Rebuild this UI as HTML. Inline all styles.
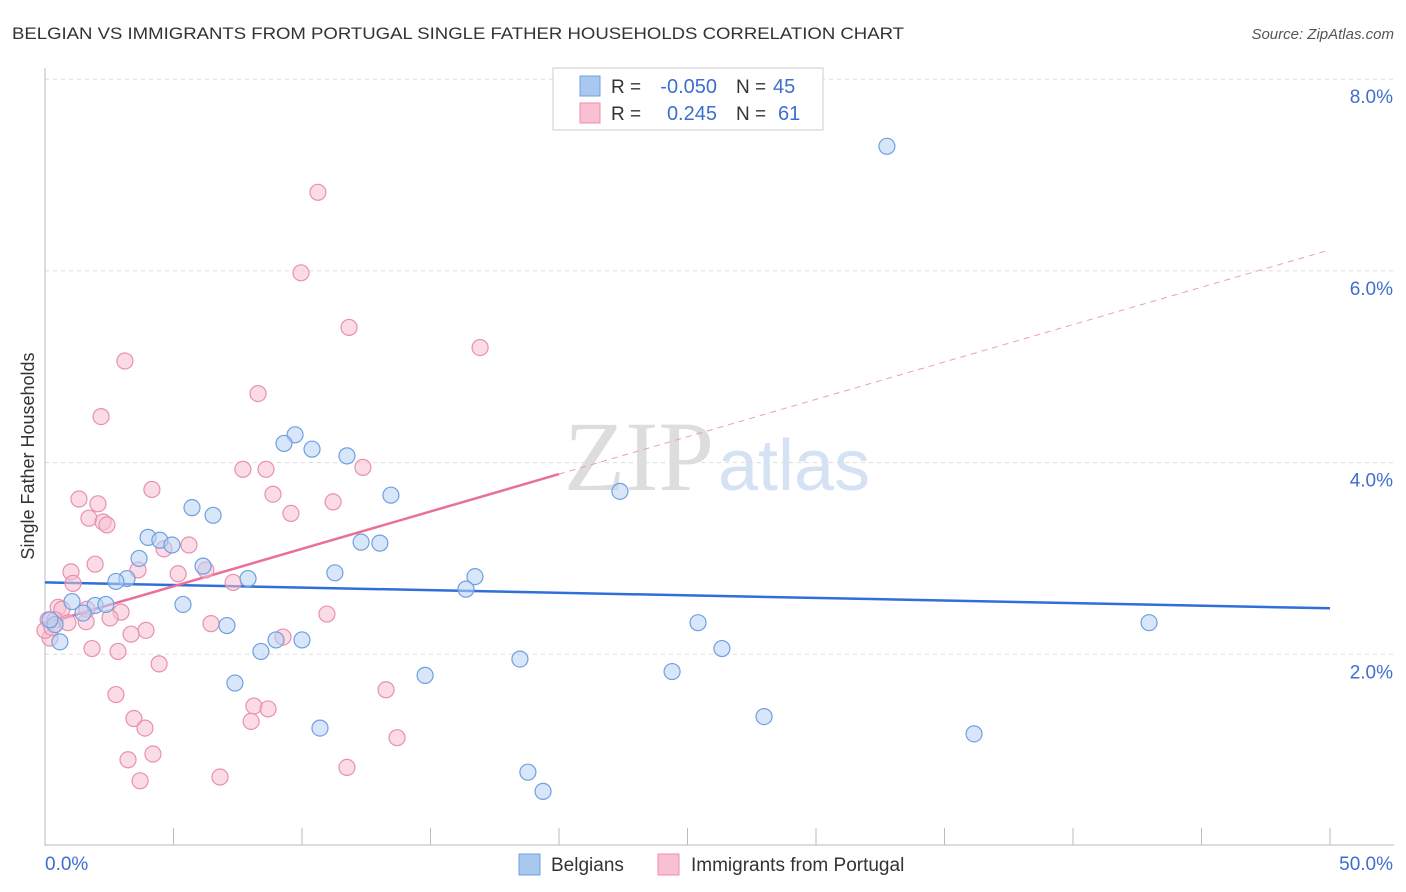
<!DOCTYPE html>
<html><head><meta charset="utf-8"><style>
body{margin:0;background:#fff;font-family:"Liberation Sans",sans-serif;}
svg{display:block}
</style></head><body>
<svg width="1406" height="892" id="chart">
<text x="12" y="39" font-size="17" fill="#333" textLength="892" lengthAdjust="spacingAndGlyphs">BELGIAN VS IMMIGRANTS FROM PORTUGAL SINGLE FATHER HOUSEHOLDS CORRELATION CHART</text>
<text x="1394" y="39" font-size="15" fill="#555" text-anchor="end" font-style="italic">Source: ZipAtlas.com</text>
<text x="34" y="456" font-size="18" fill="#333" text-anchor="middle" transform="rotate(-90 34 456)">Single Father Households</text>
<text x="714" y="490" font-size="100" fill="#ddd" text-anchor="end" font-family="Liberation Serif">ZIP</text>
<text x="718" y="490" font-size="72" fill="#d4e2f4">atlas</text>
<g id="grid"></g><g id="axes"></g><g id="lines"></g><g id="pts"></g>
<g>
<rect x="553" y="68" width="270" height="62" fill="#fff" stroke="#ccc"/>
<rect x="580" y="76" width="20" height="20" fill="#a8c8f0" stroke="#6fa0e0"/>
<rect x="580" y="103" width="20" height="20" fill="#f8c0d2" stroke="#e890b0"/>
<text x="611" y="93" font-size="19" fill="#333">R =</text>
<text x="717" y="93" font-size="20" fill="#3d6fd0" text-anchor="end">-0.050</text>
<text x="736" y="93" font-size="19" fill="#333">N =</text>
<text x="773" y="93" font-size="20" fill="#3d6fd0">45</text>
<text x="611" y="120" font-size="19" fill="#333">R =</text>
<text x="717" y="120" font-size="20" fill="#3d6fd0" text-anchor="end">0.245</text>
<text x="736" y="120" font-size="19" fill="#333">N =</text>
<text x="778" y="120" font-size="20" fill="#3d6fd0">61</text>
</g>
<g>
<rect x="519" y="854" width="21" height="21" fill="#a8c8f0" stroke="#6fa0e0"/>
<text x="551" y="871" font-size="19" fill="#333">Belgians</text>
<rect x="658" y="854" width="21" height="21" fill="#f8c0d2" stroke="#e890b0"/>
<text x="691" y="871" font-size="19" fill="#333">Immigrants from Portugal</text>
</g>
</svg>
<script>
const blueX=[32.76,9.73,9.30,10.39,11.75,13.46,22.37,5.72,6.54,4.01,4.47,4.94,12.30,13.03,3.66,6.15,3.19,2.76,11.28,7.90,16.73,16.38,1.05,1.95,2.37,5.37,1.48,0.39,0.19,0.58,7.08,25.41,42.96,8.99,10.00,8.40,26.34,18.48,14.79,24.40,7.39,27.98,10.70,36.15,18.79,19.38];
const blueY=[7.30,4.29,4.20,4.14,4.07,3.66,3.70,3.53,3.45,3.22,3.19,3.14,3.17,3.16,3.00,2.92,2.79,2.76,2.85,2.79,2.81,2.68,2.55,2.51,2.52,2.52,2.43,2.31,2.36,2.13,2.30,2.33,2.33,2.15,2.15,2.03,2.06,1.95,1.78,1.82,1.70,1.35,1.23,1.17,0.77,0.57];
const pinkX=[10.62,9.96,11.83,16.93,3.11,8.29,2.18,4.16,7.70,8.60,12.37,1.32,2.06,8.87,11.21,9.57,1.71,2.26,2.41,5.60,4.63,1.95,3.62,5.18,6.26,1.01,7.32,1.09,0.51,0.66,1.63,2.96,2.53,10.97,0.12,0.39,0.89,1.60,6.46,3.93,3.35,9.26,0.19,1.83,2.84,4.44,13.27,2.76,8.13,8.68,3.46,8.02,3.89,13.70,4.20,3.23,11.75,6.81,3.70,0.00,0.27];
const pinkY=[6.82,5.98,5.41,5.20,5.06,4.72,4.48,3.72,3.93,3.93,3.95,3.62,3.57,3.67,3.59,3.47,3.42,3.38,3.35,3.14,3.10,2.94,2.88,2.84,2.88,2.86,2.75,2.74,2.49,2.47,2.47,2.44,2.38,2.42,2.36,2.36,2.33,2.34,2.32,2.25,2.21,2.18,2.17,2.06,2.03,1.90,1.63,1.58,1.46,1.43,1.33,1.30,1.23,1.13,0.96,0.90,0.82,0.72,0.68,2.25,2.28];
const yTicks=[2,4,6,8];
const yTickLabels=["2.0%","4.0%","6.0%","8.0%"];
const blueTrend=[2.75,2.48];
const pinkTrend=[2.32,6.22];
const pinkSolidEnd=20;
const X=v=>45+v/50*1285, Y=v=>846-v*95.85;
const NS="http://www.w3.org/2000/svg";
function mk(t,a,p){const e=document.createElementNS(NS,t);for(const k in a)e.setAttribute(k,a[k]);p.appendChild(e);return e;}
const grid=document.getElementById('grid'),axes=document.getElementById('axes'),lines=document.getElementById('lines'),pts=document.getElementById('pts');
yTicks.forEach((t,i)=>{
 const l=mk('line',{x1:45,x2:1394,y1:Y(t),y2:Y(t),stroke:'#ddd','stroke-dasharray':'4,4'},grid);
 
 
 const tx=mk('text',{x:1393,y:Y(t)+24,'font-size':19,fill:'#3d6fd0','text-anchor':'end'},grid);
 tx.textContent=yTickLabels[i];
 
 
});
let a=mk('line',{x1:45,x2:45,y1:68,y2:846,stroke:'#bbb'},axes);


a=mk('line',{x1:45,x2:1394,y1:845,y2:845,stroke:'#bbb'},axes);


for(let v=5;v<=50;v+=5){const t=mk('line',{x1:X(v),x2:X(v),y1:828,y2:845,stroke:'#bbb'},axes);
 
 }
let t=mk('text',{x:45,y:870,'font-size':19,fill:'#3d6fd0'},axes);t.textContent='0.0%';


t=mk('text',{x:1393,y:870,'font-size':19,fill:'#3d6fd0','text-anchor':'end'},axes);t.textContent='50.0%';


const pr=v=>pinkTrend[0]+(pinkTrend[1]-pinkTrend[0])*v/50;
let ln=mk('line',{x1:X(pinkSolidEnd),y1:Y(pr(pinkSolidEnd)),x2:X(50),y2:Y(pr(50)),stroke:'#e8a0b8','stroke-dasharray':'6,5'},lines);


function drawPts(xs,ys,fill,stroke,name){xs.forEach((x,i)=>{const c=mk('circle',{cx:X(x),cy:Y(ys[i]),r:8,fill:fill,'fill-opacity':0.55,stroke:stroke,'stroke-width':1.2},pts);
 
 });}
drawPts(pinkX,pinkY,'#f8c0d2','#e890b0','portugal-point');
drawPts(blueX,blueY,'#b8d2f4','#6fa0e0','belgian-point');
ln=mk('line',{x1:X(0),y1:Y(blueTrend[0]),x2:X(50),y2:Y(blueTrend[1]),stroke:'#2f6fd8','stroke-width':2.5},lines);


ln=mk('line',{x1:X(0),y1:Y(pr(0)),x2:X(pinkSolidEnd),y2:Y(pr(pinkSolidEnd)),stroke:'#e8709a','stroke-width':2.5},lines);


</script>
</body></html>
